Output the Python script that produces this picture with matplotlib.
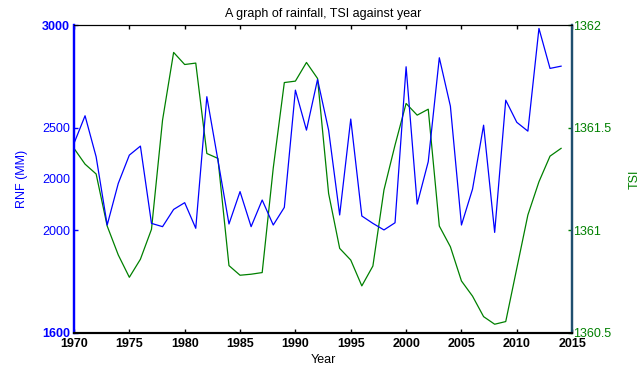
import matplotlib
matplotlib.use("Agg")
import matplotlib.pyplot as plt

plt.rcParams['font.family'] = ['Liberation Sans', 'DejaVu Sans']

years = list(range(1970, 2015))
rainfall = [2423, 2558, 2358, 2025, 2228, 2366, 2410, 2033, 2017, 2101,
            2134, 2009, 2651, 2342, 2030, 2188, 2017, 2147, 2025, 2111,
            2683, 2488, 2735, 2488, 2074, 2542, 2069, 2033, 2001, 2036,
            2797, 2127, 2334, 2841, 2605, 2025, 2200, 2512, 1989, 2634,
            2526, 2483, 2984, 2789, 2800]
tsi = [1361.399, 1361.322, 1361.274, 1361.020, 1360.879, 1360.770, 1360.858, 1361.004, 1361.537, 1361.867,
       1361.808, 1361.815, 1361.374, 1361.350, 1360.827, 1360.780, 1360.785, 1360.793, 1361.303, 1361.720,
       1361.727, 1361.818, 1361.740, 1361.179, 1360.911, 1360.854, 1360.728, 1360.825, 1361.196, 1361.415,
       1361.618, 1361.561, 1361.590, 1361.020, 1360.919, 1360.752, 1360.678, 1360.578, 1360.541, 1360.554,
       1360.814, 1361.074, 1361.236, 1361.361, 1361.399]

x_ticks = [1970, 1975, 1980, 1985, 1990, 1995, 2000, 2005, 2010, 2015]
left_ticks = [1500, 2000, 2250, 2500, 3000]
left_labels = ['1600', '2000', '2000', '2500', '3000']
right_ticks = [1360.5, 1361, 1361.5, 1362]
right_labels = ['1360.5', '1361', '1361.5', '1362']

fig = plt.figure(figsize=(6.4, 3.7), dpi=100)
ax = fig.add_axes([0.1156, 0.101, 0.7784, 0.831])
ax2 = ax.twinx()

blue = '#0000ff'
green = '#008000'

ax.plot(years, rainfall, color=blue, lw=0.9, zorder=3)
ax2.plot(years, tsi, color=green, lw=0.9)
ax.set_zorder(ax2.get_zorder() + 1)
ax.patch.set_visible(False)

ax.set_xlim(1970, 2015)
ax.set_ylim(1500, 3000)
ax2.set_ylim(1360.5, 1362)

ax.set_xticks(x_ticks)
ax.set_xticklabels([str(t) for t in x_ticks], fontsize=9, fontweight='bold')
ax.set_yticks(left_ticks)
ax.set_yticklabels(left_labels, fontsize=9, color=blue)
for lab in ax.get_yticklabels():
    if lab.get_text() in ('3000', '1600'):
        lab.set_fontweight('bold')
ax2.set_yticks(right_ticks)
ax2.set_yticklabels(right_labels, fontsize=9, color=green)

ax.tick_params(axis='x', direction='in', length=3, width=1, top=True, pad=4, colors='black')
ax.tick_params(axis='y', direction='in', length=3, width=1, colors=blue, pad=3)
ax2.tick_params(axis='y', direction='in', length=3, width=1, colors=green, pad=1)
for t in ax.yaxis.get_major_ticks():
    if abs(t.get_loc() - 2250) < 1:
        t.tick1line.set_visible(False)

for a in (ax, ax2):
    a.spines['top'].set_color('black')
    a.spines['top'].set_linewidth(0.8)
    a.spines['bottom'].set_color('black')
    a.spines['bottom'].set_linewidth(1.5)
    a.spines['left'].set_color(blue)
    a.spines['left'].set_linewidth(1.6)
    a.spines['right'].set_color('#1f4f6f')
    a.spines['right'].set_linewidth(1.6)

ax.set_ylabel('RNF (MM)', color=blue, fontsize=9, labelpad=10)
ax2.set_ylabel('TSI', color=green, fontsize=9, labelpad=12)
ax.set_xlabel('Year', fontsize=9, labelpad=3)
ax.set_title('A graph of rainfall, TSI against year', fontsize=9, pad=6)

fig.savefig('out.png', dpi=100)
